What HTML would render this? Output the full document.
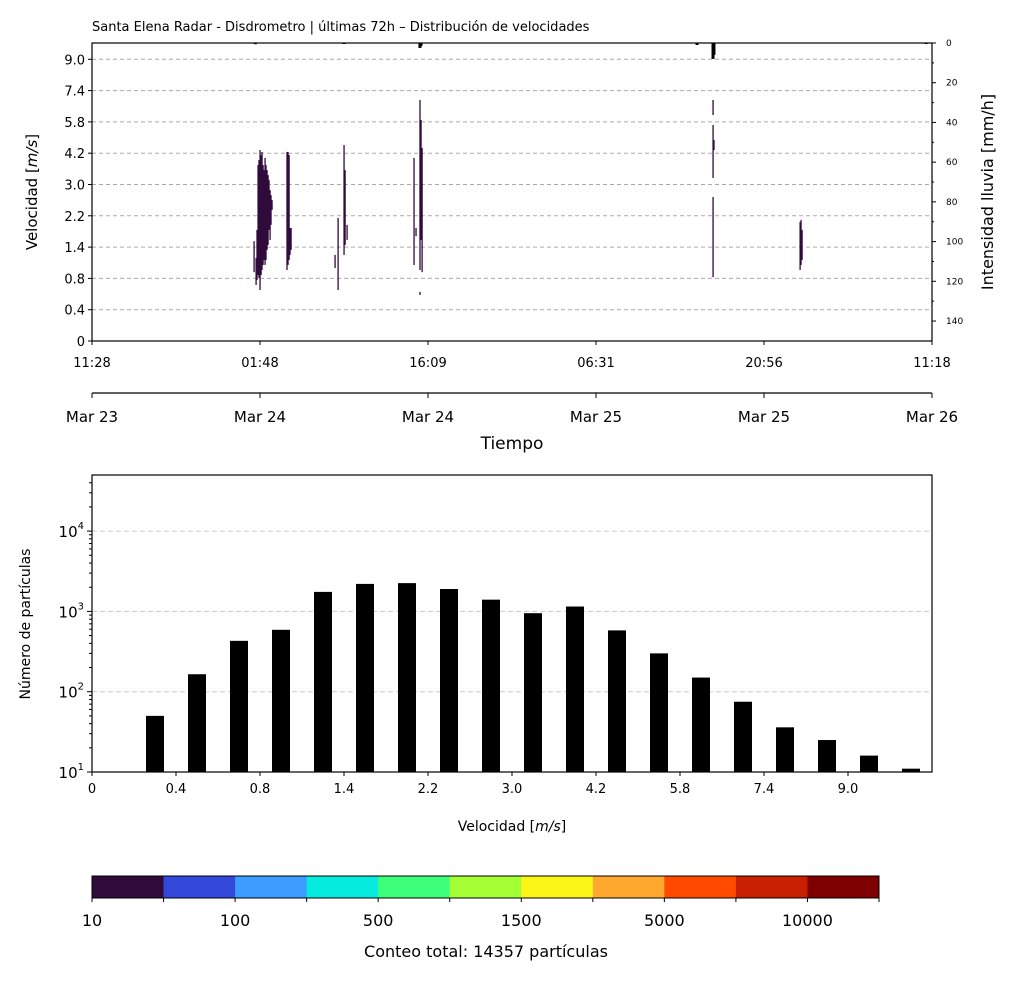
<!DOCTYPE html>
<html><head><meta charset="utf-8"><style>
body{margin:0;background:#fff;font-family:"Liberation Sans","DejaVu Sans",sans-serif}
svg text{font-family:"DejaVu Sans","Liberation Sans",sans-serif;fill:#000}
</style></head><body>
<svg id="c" width="1013" height="977" viewBox="0 0 1013 977" xmlns="http://www.w3.org/2000/svg"></svg>
<script>
// ---- top chart data ----
const velLabels=["0","0.4","0.8","1.4","2.2","3.0","4.2","5.8","7.4","9.0"];
const rightTicks=[0,20,40,60,80,100,120,140];
const timeLabels=["11:28","01:48","16:09","06:31","20:56","11:18"];
const dateLabels=["Mar 23","Mar 24","Mar 24","Mar 25","Mar 25","Mar 26"];
// segments: hour, vmin index, vmax index
const segHours=[13.89,14.06,14.14,14.23,14.31,14.4,14.49,14.57,14.66,14.74,14.83,14.91,15.0,15.09,15.17,15.26,15.34,15.43,
16.71,16.8,16.89,16.97,17.06,20.83,21.09,21.6,21.69,21.86,27.6,27.77,28.11,28.2,28.29,28.11,
53.23,53.23,53.31,53.23,60.69,60.77,60.86];
const segMin=[2.20,1.79,1.95,2.11,2.01,1.63,2.11,2.27,2.43,2.59,2.43,2.59,2.91,3.07,3.55,3.23,3.71,4.19,
2.27,2.43,2.59,2.75,2.91,2.33,1.63,2.75,3.07,3.23,2.43,3.35,2.27,3.23,2.20,1.47,
7.22,5.21,6.10,2.04,2.27,2.43,2.59];
const segMax=[3.19,2.65,3.55,5.62,5.78,6.10,5.94,6.04,5.62,5.46,5.85,5.62,5.46,5.30,5.14,4.82,4.66,4.50,
6.04,6.04,5.94,3.61,3.61,2.75,3.93,6.26,5.46,3.71,5.85,3.61,7.70,7.06,6.17,1.57,
7.70,6.90,6.42,4.60,3.80,3.87,3.55];
const rainHours=[14.0,21.6,28.11,28.2,51.86,53.23,53.31,71.5];
const rainVals=[0.6,0.5,2.5,1.5,1.0,8.0,6.0,0.5];
// ---- bottom chart data ----
const histLabels=["0","0.4","0.8","1.4","2.2","3.0","4.2","5.8","7.4","9.0"];
const histCounts=[50,165,430,590,1750,2200,2250,1900,1400,950,1150,580,300,150,75,36,25,16,11];
const cbLabels=["10","100","500","1500","5000","10000"];
const cbColors=["#300a3b","#3349dc","#3d9cff","#05ecdf","#3dff7a","#a5ff35","#fbf518","#ffa82f","#ff4a00","#c81f00","#7f0000"];

const svg=document.getElementById('c');
const NS="http://www.w3.org/2000/svg";
function mk(tag,attrs,parent){const e=document.createElementNS(NS,tag);for(const k in attrs)e.setAttribute(k,attrs[k]);(parent||svg).appendChild(e);return e;}
function tx(x,y,s,size,anchor,parent,extra){const e=mk('text',Object.assign({x:x,y:y,'font-size':size,'text-anchor':anchor||'middle'},extra||{}),parent);e.textContent=s;return e;}

// ---- top axes ----
const L=92,R=932,T1=43,B1=341;
const xT=h=>L+(h/72)*(R-L);
const yV=i=>B1-i*31.3;
const yR=v=>T1+v*1.986;
const title=tx(92,31,"Santa Elena Radar - Disdrometro | últimas 72h – Distribución de velocidades",13,'start');

for(let i=1;i<velLabels.length;i++){const g=mk('line',{x1:L,x2:R,y1:yV(i),y2:yV(i),stroke:'#aaa','stroke-dasharray':'4,3','stroke-width':1});
}
for(let i=0;i<segHours.length;i++){const x=xT(segHours[i]);const r=mk('rect',{x:x-0.6,y:yV(segMax[i]),width:1.3,height:yV(segMin[i])-yV(segMax[i]),fill:'#300a3b'});
}
for(let i=0;i<rainHours.length;i++){const x=xT(rainHours[i]);const r=mk('rect',{x:x-1.5,y:T1,width:3,height:yR(rainVals[i])-T1,fill:'#000'});
}
mk('rect',{x:L,y:T1,width:R-L,height:B1-T1,fill:'none',stroke:'#000','stroke-width':1.2});
for(let i=0;i<velLabels.length;i++){mk('line',{x1:L-4,x2:L,y1:yV(i),y2:yV(i),stroke:'#000'});
const t=tx(L-7,yV(i)+5,velLabels[i],13,'end');}
for(const v of rightTicks){mk('line',{x1:R,x2:R+4,y1:yR(v),y2:yR(v),stroke:'#000'});tx(R+14,yR(v)+3,String(v),9,'start');}
for(let v=10;v<150;v+=20)mk('line',{x1:R,x2:R+2,y1:yR(v),y2:yR(v),stroke:'#000'});
for(let i=0;i<timeLabels.length;i++){const x=L+i*(R-L)/5;mk('line',{x1:x,x2:x,y1:B1,y2:B1+4,stroke:'#000'});
const t=tx(x,B1+26,timeLabels[i],13);}
let yl=tx(0,0,"Velocidad [m/s]",15,'middle',svg,{transform:'translate(37,192) rotate(-90)'});
yl.textContent='';yl.innerHTML='Velocidad [<tspan font-style="italic">m/s</tspan>]';

const ryl=tx(0,0,"Intensidad lluvia [mm/h]",16,'middle',svg,{transform:'translate(993,192) rotate(-90)'});

// date axis
mk('line',{x1:L,x2:R,y1:393,y2:393,stroke:'#000','stroke-width':1.2});
for(let i=0;i<dateLabels.length;i++){const x=L+i*(R-L)/5;mk('line',{x1:x,x2:x,y1:393,y2:398,stroke:'#000'});
const t=tx(x,422,dateLabels[i],15);}
const xt=tx(512,449,"Tiempo",17);

// ---- bottom histogram ----
const T2=475,B2=772;
const xU=u=>L+u*42;
const yL=v=>B2-(Math.log10(v)-1)*80.3;
for(let d=2;d<=4;d++){const g=mk('line',{x1:L,x2:R,y1:yL(Math.pow(10,d)),y2:yL(Math.pow(10,d)),stroke:'#ccc','stroke-dasharray':'5,3'});
}
for(let i=0;i<histCounts.length;i++){const x=xU(1.5+i);const r=mk('rect',{x:x-9,y:yL(histCounts[i]),width:18,height:B2-yL(histCounts[i]),fill:'#000'});
}
mk('rect',{x:L,y:T2,width:R-L,height:B2-T2,fill:'none',stroke:'#000','stroke-width':1.2});
for(let d=1;d<=4;d++){const y=yL(Math.pow(10,d));mk('line',{x1:L-5,x2:L,y1:y,y2:y,stroke:'#000'});
const t=mk('text',{x:L-8,y:y+6,'font-size':15,'text-anchor':'end'});t.innerHTML='10<tspan font-size="10" dy="-8">'+d+'</tspan>';
}
for(let d=1;d<=4;d++)for(let k=2;k<=9;k++){const v=k*Math.pow(10,d);const y=yL(v);if(y<T2)continue;mk('line',{x1:L-3,x2:L,y1:y,y2:y,stroke:'#000'});}
for(let i=0;i<histLabels.length;i++){const x=xU(2*i);mk('line',{x1:x,x2:x,y1:B2,y2:B2+4,stroke:'#000'});
const t=tx(x,B2+21,histLabels[i],13);}
const hx=mk('text',{x:512,y:831,'font-size':14,'text-anchor':'middle'});hx.innerHTML='Velocidad [<tspan font-style="italic">m/s</tspan>]';

const hy=tx(0,0,"Número de partículas",14,'middle',svg,{transform:'translate(30,624) rotate(-90)'});


// ---- colorbar ----
const cw=(879-92)/cbColors.length;
for(let i=0;i<cbColors.length;i++){const r=mk('rect',{x:92+i*cw,y:876,width:cw+0.5,height:22,fill:cbColors[i]});
}
mk('rect',{x:92,y:876,width:879-92,height:22,fill:'none',stroke:'#000'});
for(let i=0;i<=cbColors.length;i++)mk('line',{x1:92+i*cw,x2:92+i*cw,y1:898,y2:902,stroke:'#000'});
for(let i=0;i<cbLabels.length;i++){const t=tx(92+2*i*cw,926,cbLabels[i],16);}
const ct=tx(486,957,"Conteo total: 14357 partículas",16);
</script>
</body></html>
